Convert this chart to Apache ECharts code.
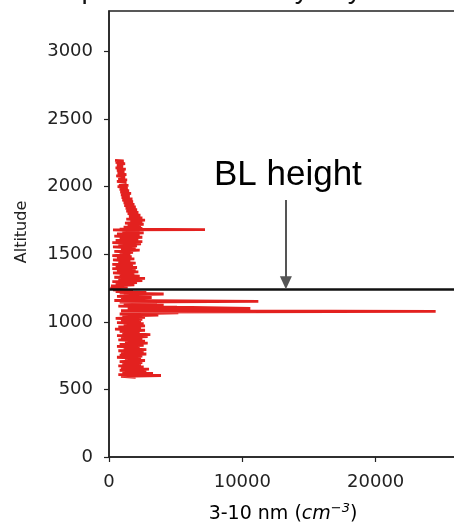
<!DOCTYPE html>
<html>
<head>
<meta charset="utf-8">
<script src="https://cdn.jsdelivr.net/npm/echarts@6/dist/echarts.min.js"></script>
<style>
  html, body { margin: 0; padding: 0; background: #ffffff; overflow: hidden; }
  #chart { width: 470px; height: 524px; }
</style>
</head>
<body>
<div id="chart"></div>
<script>
// Altitude of each sample (m), in flight order from the top of the profile down
const altitude = [
  2195, 2190, 2180, 2170, 2160, 2150, 2140, 2130, 2120, 2110, 2100, 2090, 2080, 2070, 2060, 2050,
  2040, 2030, 2020, 2010, 2000, 1990, 1980, 1970, 1960, 1950, 1940, 1930, 1920, 1910, 1900, 1890,
  1880, 1870, 1860, 1850, 1840, 1830, 1820, 1810, 1800, 1790, 1780, 1770, 1760, 1752, 1745, 1738,
  1730, 1722, 1715, 1708, 1700, 1692, 1686, 1683, 1680, 1674, 1666, 1658, 1650, 1642, 1634, 1626,
  1618, 1610, 1602, 1594, 1586, 1578, 1570, 1562, 1554, 1546, 1538, 1530, 1522, 1514, 1506, 1498,
  1490, 1482, 1474, 1466, 1458, 1450, 1442, 1434, 1426, 1418, 1410, 1402, 1394, 1386, 1378, 1370,
  1362, 1354, 1346, 1338, 1330, 1322, 1314, 1306, 1298, 1290, 1282, 1274, 1266, 1258, 1250, 1242,
  1236, 1230, 1224, 1218, 1212, 1206, 1200, 1194, 1188, 1180, 1172, 1164, 1158, 1152, 1146, 1140,
  1132, 1124, 1116, 1108, 1100, 1094, 1088, 1082, 1078, 1072, 1066, 1058, 1050, 1042, 1034, 1026,
  1018, 1010, 1002, 994, 986, 978, 970, 962, 954, 946, 938, 930, 922, 914, 906, 898,
  890, 882, 874, 866, 858, 850, 842, 834, 826, 818, 810, 802, 794, 786, 778, 770,
  762, 754, 746, 738, 730, 722, 714, 706, 698, 690, 682, 674, 666, 658, 650, 642,
  634, 626, 618, 610, 603, 596, 590
];

// 3-10 nm particle number concentration (cm^-3) at each altitude above
const concentration = [
  450, 1100, 500, 1200, 600, 1050, 500, 1250, 600, 1150, 650, 1300, 550, 1200, 700, 1350,
  600, 1300, 750, 1450, 650, 1400, 800, 1500, 850, 1650, 900, 1550, 950, 1750, 1000, 1800,
  1100, 1900, 1150, 2000, 1250, 2100, 1300, 2200, 1400, 2350, 1500, 2500, 1300, 2700, 1600, 2500,
  1200, 2600, 1400, 2400, 1100, 2500, 800, 7200, 300, 2300, 1000, 2600, 600, 2300, 400, 2500,
  800, 2200, 500, 2500, 250, 2400, 700, 2100, 300, 2000, 900, 2300, 400, 1800, 800, 1600,
  250, 1700, 600, 1900, 300, 1600, 700, 2000, 250, 1800, 500, 2100, 250, 2000, 600, 2200,
  300, 1900, 800, 2300, 400, 2700, 700, 2500, 250, 2100, 500, 1900, 150, 1400, 100, 900,
  300, 1800, 500, 2800, 800, 4100, 1100, 3000, 600, 3200, 900, 2900, 400, 11200, 800, 3600,
  1100, 4100, 700, 5100, 10600, 1400, 5400, 900, 24500, 1300, 5200, 800, 3700, 1000, 2700, 500,
  2500, 900, 2400, 600, 2600, 1100, 2700, 700, 2400, 450, 2700, 800, 2300, 1000, 3100, 600,
  2900, 900, 2500, 700, 2700, 1200, 2900, 800, 2600, 600, 2300, 1100, 2800, 700, 2600, 900,
  2800, 800, 2500, 600, 2400, 1200, 2700, 800, 2500, 1000, 2400, 700, 2600, 900, 3000, 800,
  2800, 1000, 3300, 700, 3900, 900, 2000
];

// Boundary-layer top (m) and where the label/arrow sit along x
const blHeight = 1243;
const arrowX = 13266;
const arrowFrom = 1902;
const arrowTo = 1290;

// Axis ticks
const xTicks = [0, 10000, 20000];
const yTicks = [0, 500, 1000, 1500, 2000, 2500, 3000];

const profile = concentration.map((c, i) => [c, altitude[i]]);

const tickFont = { fontFamily: 'DejaVu Sans', fontSize: 18, color: '#222' };

const chart = echarts.init(document.getElementById('chart'), null, { renderer: 'canvas' });

chart.setOption({
  animation: false,
  backgroundColor: '#ffffff',
  grid: {
    left: 109, right: 1, top: 11, bottom: 67,
    show: true, borderColor: '#222', borderWidth: 1.5, backgroundColor: 'transparent'
  },
  xAxis: {
    type: 'value', min: 0, max: 27000, interval: 10000,
    axisLine: { show: true, lineStyle: { color: '#222', width: 1.5 } },
    axisTick: { show: true, length: 5, lineStyle: { color: '#222', width: 1.2 } },
    axisLabel: Object.assign({ margin: 16, showMaxLabel: false,
      formatter: v => (xTicks.includes(v) ? String(v) : '') }, tickFont),
    splitLine: { show: false }
  },
  yAxis: {
    type: 'value', min: 0, max: 3300, interval: 500,
    axisLine: { show: true, lineStyle: { color: '#222', width: 1.5 } },
    axisTick: { show: true, length: 5, lineStyle: { color: '#222', width: 1.2 } },
    axisLabel: Object.assign({ margin: 16, showMaxLabel: false,
      formatter: v => (yTicks.includes(v) ? String(v) : '') }, tickFont),
    splitLine: { show: false }
  },
  series: [{
    type: 'line',
    data: profile,
    showSymbol: false,
    symbol: 'none',
    smooth: false,
    lineStyle: { color: '#e3211f', width: 2.8 },
    z: 2,
    markLine: {
      silent: true,
      symbol: ['none', 'none'],
      label: { show: false },
      animation: false,
      data: [
        { yAxis: blHeight, lineStyle: { color: '#111', width: 2.5, type: 'solid' } },
        [
          { coord: [arrowX, arrowFrom], symbol: 'none',
            lineStyle: { color: '#555', width: 2, type: 'solid' } },
          { coord: [arrowX, arrowTo], symbol: 'triangle', symbolSize: [12, 13] }
        ]
      ]
    }
  }]
});

const labelPos = chart.convertToPixel({ gridIndex: 0 }, [arrowX, 2087]);

chart.setOption({
  graphic: [
    {
      type: 'text', x: -18, y: 4, silent: true,
      style: { text: 'Vertical profile on a cloudy day', font: '28px "Liberation Sans", Arial, sans-serif',
        fill: '#111', verticalAlign: 'bottom', align: 'left' }
    },
    {
      type: 'text', x: labelPos[0] + 2, y: labelPos[1], silent: true,
      style: { text: 'BL height', font: '35px "Liberation Sans", Arial, sans-serif',
        fill: '#000', align: 'center', verticalAlign: 'middle' }
    },
    {
      type: 'text', x: 22, y: 232, rotation: Math.PI / 2, silent: true,
      style: { text: 'Altitude', font: '16px "DejaVu Sans"', fill: '#222',
        align: 'center', verticalAlign: 'middle' }
    },
    {
      type: 'text', x: 283, y: 514, silent: true,
      style: {
        text: '{n|3-10 nm (}{i|cm}{s|−3}{n|)}',
        align: 'center', verticalAlign: 'middle',
        rich: {
          n: { fontFamily: 'DejaVu Sans', fontSize: 19, color: '#222' },
          i: { fontFamily: 'DejaVu Sans', fontStyle: 'italic', fontSize: 19, color: '#222' },
          s: { fontFamily: 'DejaVu Sans', fontStyle: 'italic', fontSize: 13, color: '#222', padding: [0, 0, 11, 0] }
        }
      }
    }
  ]
});
</script>
</body>
</html>
